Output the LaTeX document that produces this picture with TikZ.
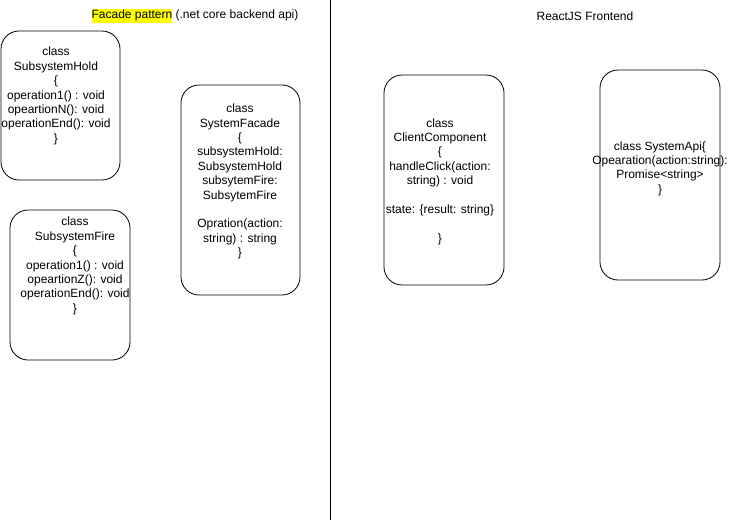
\documentclass[tikz,border=0pt]{standalone}
\usepackage{fontspec}
\setmainfont{Liberation Sans}
\definecolor{hl}{HTML}{FFFF00}
\begin{document}
\begin{tikzpicture}[x=1pt,y=-1pt,
  classbox/.style={draw=black,line width=0.8pt,rounded corners=18pt},
  classtext/.style={align=center,inner sep=0pt,font=\fontsize{12}{14.4}\selectfont},
  heading/.style={inner sep=0pt,font=\fontsize{12}{14.4}\selectfont}]
\useasboundingbox (0,0) rectangle (729,522);

% backend / frontend divider
\coordinate (divtop) at (330,0);
\coordinate (divbot) at (330,520);
\draw[line width=0.8pt] (divtop) -- (divbot);

% section headings
\node[heading] (backendtitle) at (195,16)
  {{\setlength\fboxsep{0pt}\colorbox{hl}{\strut Facade pattern}} (.net core backend api)};
\node[heading] (frontendtitle) at (585,16) {ReactJS Frontend};

% backend classes
\draw[classbox] (1,31) rectangle (120,180);
\node[classtext] (hold) at (56,96)
  {class\\SubsystemHold\\\{\\operation1() : void\\opeartionN(): void\\operationEnd(): void\\\}};

\draw[classbox] (10,210) rectangle (130,360);
\node[classtext] (fire) at (75,266)
  {class\\SubsystemFire\\\{\\operation1() : void\\opeartionZ(): void\\operationEnd(): void\\\}};

\draw[classbox] (181,85) rectangle (300,295);
\node[classtext] (facade) at (240,181.5)
  {class\\SystemFacade\\\{\\subsystemHold:\\SubsystemHold\\subsytemFire:\\SubsytemFire\\~\\Opration(action:\\string) : string\\\}};

% frontend classes
\draw[classbox] (384,75) rectangle (504,285);
\node[classtext] (client) at (440,181.5)
  {class\\ClientComponent\\\{\\handleClick(action:\\string) : void\\~\\state: \{result: string\}\\~\\\}};

\draw[classbox] (600,70) rectangle (720,280);
\node[classtext] (api) at (660,168.5)
  {class SystemApi\{\\Opearation(action:string):\\Promise<string>\\\}};
\end{tikzpicture}
\end{document}
